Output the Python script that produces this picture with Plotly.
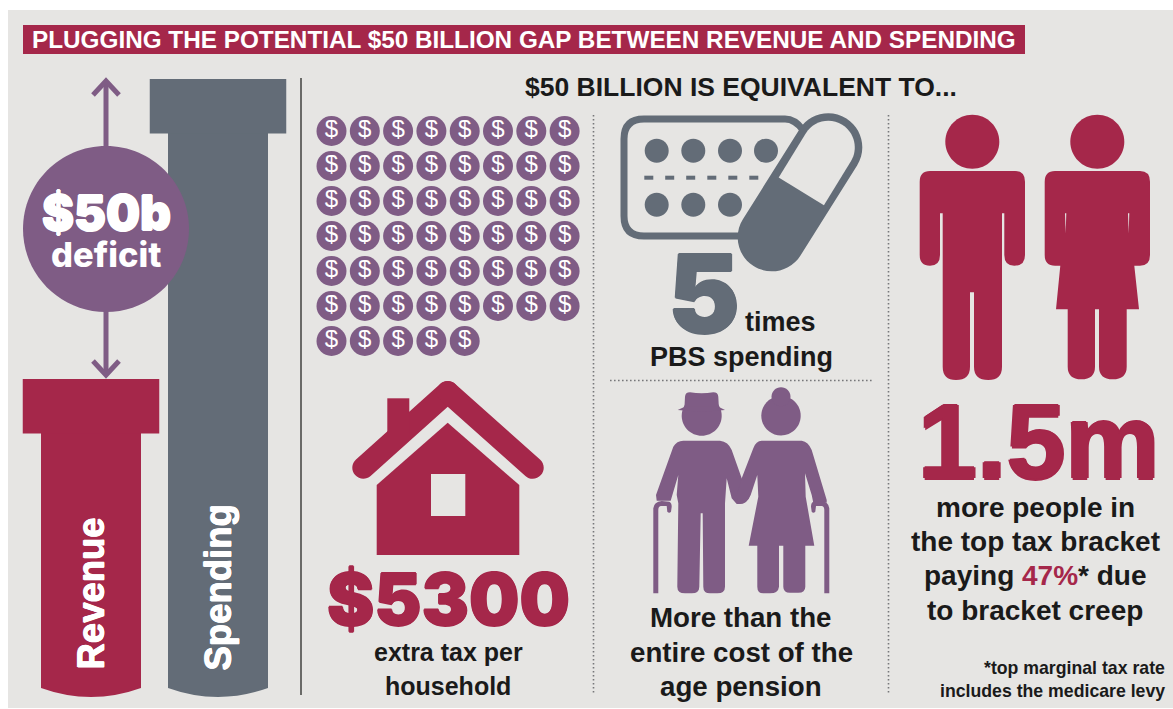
import re
import plotly.graph_objects as go

# ---- data ----
BAR_NAMES = ["Revenue", "Spending"]
BAR_CENTRES = [91, 218]
BAR_TOPS = [379, 79]
BAR_BOTTOM = 688
COIN_COUNT = 53
COINS_PER_ROW = 8
TITLE = "PLUGGING THE POTENTIAL $50 BILLION GAP BETWEEN REVENUE AND SPENDING"
SUBTITLE = "$50 BILLION IS EQUIVALENT TO..."

RED = "#A5274A"
PURPLE = "#7F5C85"
SLATE = "#636C77"
BG = "#E6E5E3"
INK = "#1A1A1A"
BOLD = "Liberation Sans"
HEAVY = "Inter"


def icon(path, ox, oy, s=3.0):
    """Convert a path in zoom-crop units to picture units."""
    def conv(m):
        return f"{ox + float(m.group(1)) / s:.1f},{oy + float(m.group(2)) / s:.1f}"
    return re.sub(r"(-?[\d.]+),(-?[\d.]+)", conv, path)


def circle(cx, cy, r):
    k = 0.5523 * r
    return (f"M{cx-r},{cy} C{cx-r},{cy-k} {cx-k},{cy-r} {cx},{cy-r} "
            f"C{cx+k},{cy-r} {cx+r},{cy-k} {cx+r},{cy} "
            f"C{cx+r},{cy+k} {cx+k},{cy+r} {cx},{cy+r} "
            f"C{cx-k},{cy+r} {cx-r},{cy+k} {cx-r},{cy} Z")


def capsule(x0, y0, x1, y1, r, flat_start=False):
    dx, dy = x1 - x0, y1 - y0
    n = (dx * dx + dy * dy) ** 0.5
    ux, uy = dx / n, dy / n
    px, py = -uy * r, ux * r
    k = 0.5523
    ex, ey = ux * r, uy * r
    a = (x0 + px, y0 + py)
    b = (x1 + px, y1 + py)
    c = (x1 - px, y1 - py)
    d = (x0 - px, y0 - py)
    tip = (x1 + ex, y1 + ey)
    s = f"M{a[0]:.1f},{a[1]:.1f} L{b[0]:.1f},{b[1]:.1f} "
    s += (f"C{b[0]+k*ex:.1f},{b[1]+k*ey:.1f} {tip[0]+k*px:.1f},{tip[1]+k*py:.1f} {tip[0]:.1f},{tip[1]:.1f} "
          f"C{tip[0]-k*px:.1f},{tip[1]-k*py:.1f} {c[0]+k*ex:.1f},{c[1]+k*ey:.1f} {c[0]:.1f},{c[1]:.1f} ")
    s += f"L{d[0]:.1f},{d[1]:.1f} "
    if not flat_start:
        tail = (x0 - ex, y0 - ey)
        s += (f"C{d[0]-k*ex:.1f},{d[1]-k*ey:.1f} {tail[0]-k*px:.1f},{tail[1]-k*py:.1f} {tail[0]:.1f},{tail[1]:.1f} "
              f"C{tail[0]+k*px:.1f},{tail[1]+k*py:.1f} {a[0]-k*ex:.1f},{a[1]-k*ey:.1f} {a[0]:.1f},{a[1]:.1f} ")
    return s + "Z"


shapes = []


def fill(path, color, layer="above"):
    shapes.append(dict(type="path", path=path, fillcolor=color, line=dict(width=0), layer=layer))


def rect(x0, y0, x1, y1, color, layer="above"):
    shapes.append(dict(type="rect", x0=x0, y0=y0, x1=x1, y1=y1, fillcolor=color, line=dict(width=0), layer=layer))


def stroke(path, color, width, dash=None):
    shapes.append(dict(type="path", path=path, line=dict(color=color, width=width, dash=dash), layer="above"))


# panel and title ribbon
rect(8, 10, 1173, 708, BG, "below")
rect(23, 25, 1025, 54, RED, "below")

# rounded bar bottoms
for c, col in zip(BAR_CENTRES, [RED, SLATE]):
    fill(f"M{c-50},{BAR_BOTTOM} Q{c},{BAR_BOTTOM+18} {c+50},{BAR_BOTTOM} Z", col, "below")

# arrows + deficit circle
stroke("M106,82 L106,148", PURPLE, 5)
stroke("M93,95 L106,81 L119,95", PURPLE, 5)
stroke("M106,310 L106,374", PURPLE, 5)
stroke("M93,361 L106,375 L119,361", PURPLE, 5)
fill(circle(106, 229, 83), PURPLE)

# dividers
stroke("M301,78 L301,695", "#6A6A68", 2)
for path in ["M593.5,115 L593.5,695", "M888.5,115 L888.5,695", "M610,380.5 L873,380.5"]:
    stroke(path, "#77777A", 1.6, "1.6px,2.4px")

# house
fill(capsule(363.3, 467.7, 447.7, 392, 11), RED)
fill(capsule(532.7, 467.7, 447.7, 392, 11), RED)
rect(387.3, 398.3, 409.3, 434, RED)
fill("M376.7,485 L447.7,422.7 L519.3,485 L519.3,555 L376.7,555 Z", RED)
rect(431, 474, 465.3, 516, BG)

# blister + pill
stroke("M644,119 L785,119 Q795,119 803,130 L803,215 L780,236 L644,236 "
       "Q624,236 624,216 L624,139 Q624,119 644,119 Z", SLATE, 7)
for x in [656.7, 693.3, 730, 766]:
    fill(circle(x, 150.7, 12), SLATE)
for x in [656.7, 693.3, 730]:
    fill(circle(x, 204.7, 12), SLATE)
for x in [648.8, 669.7, 690.7, 711.8, 732.8, 753.8]:
    rect(x - 4.5, 175.7, x + 4.5, 179.7, SLATE)
fill(capsule(771.7, 237.3, 828.3, 147.3, 34), SLATE)
fill(capsule(801.3, 191.3, 828.3, 147.3, 26.5, flat_start=True), BG)

# elderly couple
OX, OY = 630, 380
fill(circle(701.7, 415.7, 20), PURPLE)
fill(icon("M163,90 L165,50 Q166,37 180,37 Q215,42 250,37 Q264,37 265,50 L267,90 Z", OX, OY), PURPLE)
fill(icon("M143,90 Q160,80 175,80 L255,80 Q270,80 285,90 Q215,98 143,90 Z", OX, OY), PURPLE)
fill(circle(781, 415.7, 19.7), PURPLE)
fill(circle(781, 396.7, 9.5), PURPLE)
fill(icon("M160,182 L270,182 Q295,185 305,210 L335,295 L360,345 Q350,375 320,372 L305,355 L290,295 "
          "L285,370 L285,620 Q285,640 262,640 L240,640 Q220,640 220,620 L218,400 L212,400 "
          "L208,620 Q208,640 185,640 L165,640 Q142,640 142,620 L145,370 L140,345 L145,285 "
          "L122,362 L80,362 L78,345 L130,200 Q140,182 160,182 Z", OX, OY), PURPLE)
fill(icon("M395,182 L515,182 Q535,185 545,210 L590,360 L590,368 L550,368 L545,345 L525,280 "
          "L527,350 L553,497 L526,497 L526,620 Q526,638 505,638 L480,638 Q460,638 460,620 "
          "L460,497 L447,497 L447,620 Q445,640 420,640 L400,640 Q382,640 382,620 L382,497 "
          "L356,497 L385,350 L382,285 L362,345 Q350,375 325,372 L320,345 L335,295 L370,205 "
          "Q378,182 395,182 Z", OX, OY), PURPLE)
fill(icon("M70,640 L70,385 Q72,365 95,363 L118,365 Q125,368 125,380 L123,395 Q118,402 112,395 "
          "L110,378 L92,378 Q85,380 85,390 L85,640 Z", OX, OY), PURPLE)
fill(icon("M598,640 L598,385 Q596,365 573,363 L550,365 Q543,368 543,380 L545,395 Q550,402 556,395 "
          "L558,378 L576,378 Q583,380 583,390 L583,640 Z", OX, OY), PURPLE)

# man and woman
OX, OY = 890, 100
fill(circle(972.3, 141.7, 27), RED)
fill(circle(1097.3, 141.7, 27), RED)
fill(icon("M120,213 L375,213 Q405,213 405,245 L405,465 Q405,497 373,497 Q343,497 343,465 L343,340 "
          "L336,340 L336,800 Q336,840 295,840 Q252,840 252,800 L252,577 L240,577 L240,800 "
          "Q240,840 198,840 Q158,840 158,800 L158,340 L150,340 L150,465 Q150,497 120,497 "
          "Q89,497 89,465 L89,245 Q89,213 120,213 Z", OX, OY), RED)
fill(icon("M495,213 L750,213 Q780,213 780,245 L780,465 Q780,497 750,497 L733,497 L747,628 L710,628 "
          "L710,800 Q710,838 668,838 Q627,838 627,800 L627,628 L615,628 L615,800 Q615,838 574,838 "
          "Q533,838 533,800 L533,628 L498,628 L511,497 L495,497 Q464,497 464,465 L464,245 "
          "Q464,213 495,213 Z", OX, OY), RED)
fill(icon("M525,340 L529,340 L527,400 Z", OX, OY), BG)
fill(icon("M714,340 L718,340 L716,400 Z", OX, OY), BG)


# ---- traces ----
fig = go.Figure()
for name, c, top, col in zip(BAR_NAMES, BAR_CENTRES, BAR_TOPS, [RED, SLATE]):
    fig.add_trace(go.Bar(x=[c], y=[BAR_BOTTOM - top], base=[top], width=[100], name=name,
                         marker=dict(color=col, line=dict(width=0))))
    fig.add_trace(go.Bar(x=[c], y=[54.5], base=[top], width=[136.5], name=name,
                         marker=dict(color=col, line=dict(width=0))))

coin_x = [331.5 + 33.3 * (i % COINS_PER_ROW) for i in range(COIN_COUNT)]
coin_y = [131 + 35 * (i // COINS_PER_ROW) for i in range(COIN_COUNT)]
fig.add_trace(go.Scatter(x=coin_x, y=coin_y, mode="markers+text", text=["$"] * COIN_COUNT,
                         textposition="middle center",
                         textfont=dict(family=BOLD, size=24, color="white"),
                         marker=dict(size=30, color=PURPLE, line=dict(width=0))))


# ---- text ----
annotations = []


def label(text, x, y, size, color=INK, family=BOLD, weight=700, anchor="center", angle=0, thick=0):
    font = dict(family=family, size=size, color=color, weight=weight)
    if thick:
        font["shadow"] = (f"{thick}px 0 {color}, -{thick}px 0 {color}, "
                          f"0 {thick}px {color}, 0 -{thick}px {color}")
    annotations.append(dict(text=text, x=x, y=y, xref="x", yref="y", showarrow=False,
                            xanchor=anchor, yanchor="middle", textangle=angle, font=font))


label(TITLE, 524, 39.5, 24.3, "white")
label(SUBTITLE, 741, 87, 26.5)
label("$50b", 106, 212, 48, "white", HEAVY, 900, thick=0.7)
label("deficit", 106, 254, 34.5, "white", HEAVY, 800)
label("Revenue", 91, 593.5, 36.5, "white", BOLD, 700, angle=-90, thick=0.5)
label("Spending", 218, 587.5, 36.5, "white", BOLD, 700, angle=-90, thick=0.5)
label("$5300", 448, 599, 71, RED, HEAVY, 900, thick=0.8)
label("extra tax per", 448, 652, 25)
label("household", 448, 686, 25)
label("5", 704, 293, 108, SLATE, HEAVY, 900, thick=0.8)
label("times", 780.5, 322, 27)
label("PBS spending", 741, 357, 27)
label("More than the", 741, 617, 27.7)
label("entire cost of the", 741, 652, 27.7)
label("age pension", 741, 686, 27.7)
label("1.5m", 1039, 441, 106, RED, BOLD, 700, thick=1.5)
label("more people in", 1035, 507, 28)
label("the top tax bracket", 1035, 541, 28)
label(f'paying <span style="color:{RED}">47%</span>* due', 1035, 575, 28)
label("to bracket creep", 1035, 610, 28)
label("*top marginal tax rate", 1167, 668, 17.7, anchor="right")
label("includes the medicare levy", 1167, 691, 17.7, anchor="right")

fig.update_layout(
    width=1173, height=709, margin=dict(l=0, r=0, t=0, b=0, pad=0),
    paper_bgcolor="white", plot_bgcolor="rgba(0,0,0,0)",
    barmode="overlay", showlegend=False, hovermode=False,
    xaxis=dict(range=[0, 1173], visible=False, fixedrange=True),
    yaxis=dict(range=[709, 0], visible=False, fixedrange=True),
    shapes=shapes, annotations=annotations,
)
fig.write_html("out.html", config={"displayModeBar": False},
               post_script="document.body.style.margin='0';document.body.style.overflow='hidden';")
